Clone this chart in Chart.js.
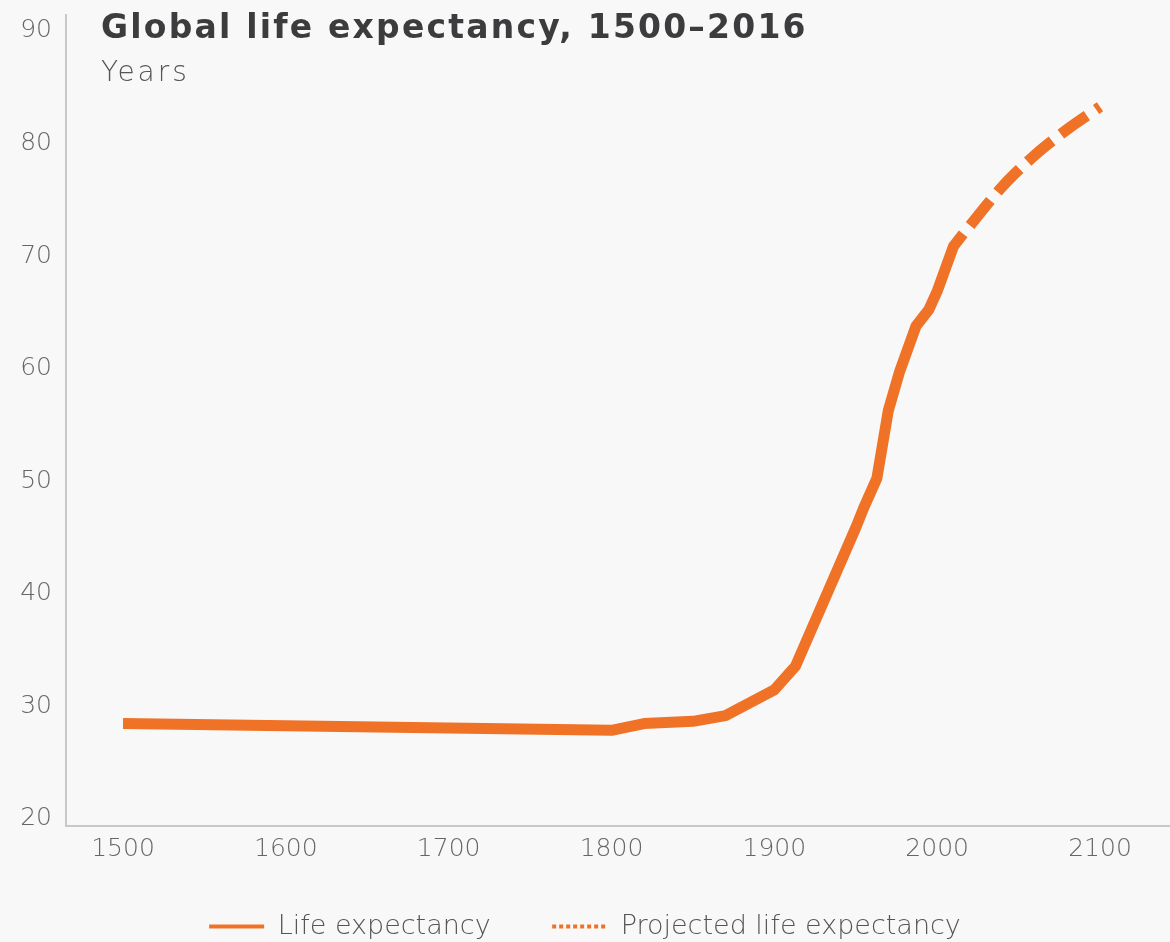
<!DOCTYPE html>
<html>
<head>
<meta charset="utf-8">
<script src="https://cdn.jsdelivr.net/npm/chart.js@4.4.1/dist/chart.umd.min.js"></script>
<style>
  html, body { margin: 0; padding: 0; background: #f8f8f8; }
  #wrap { position: relative; width: 1170px; height: 942px; }
  #title { position: absolute; left: 101px; top: 10px; font-family: "DejaVu Sans"; font-weight: bold; font-size: 33px; line-height: 1; letter-spacing: 2.2px; color: #3c3c3e; white-space: nowrap; }
  #subtitle { position: absolute; left: 101px; top: 58px; font-family: "DejaVu Sans"; font-weight: 200; font-size: 28px; line-height: 1; letter-spacing: 3px; color: #555; }
</style>
</head>
<body>
<div id="wrap">
  <canvas id="lifeChart" width="1170" height="942"></canvas>
  <div id="title">Global life expectancy, 1500–2016</div>
  <div id="subtitle">Years</div>
</div>
<script>
// values
const years = [1500, 1800, 1820, 1850, 1870, 1900, 1913, 1950, 1955, 1963, 1970, 1977, 1987, 1995, 2000, 2010, 2016];
const lifeExp = [28.2, 27.6, 28.2, 28.4, 28.9, 31.2, 33.3, 45.6, 47.4, 50.0, 56.0, 59.5, 63.5, 65.0, 66.6, 70.6, 71.7];

const projYears = [2016, 2040, 2060, 2080, 2100];
const projLifeExp = [71.7, 75.9, 78.7, 81.0, 83.0];

const xTicks = [1500, 1600, 1700, 1800, 1900, 2000, 2100];
const yTicks = [20, 30, 40, 50, 60, 70, 80, 90];

const ORANGE = '#ef7226';
const tickFont = { family: 'DejaVu Sans', size: 25, weight: '200' };

function toPoints(xs, ys) {
    return xs.map((x, i) => ({ x: x, y: ys[i] }));
}

const ctx = document.getElementById('lifeChart').getContext('2d');
new Chart(ctx, {
    type: 'line',
    data: {
        datasets: [
            { label: 'Life expectancy', data: toPoints(years, lifeExp), borderColor: ORANGE, borderWidth: 11, borderCapStyle: 'butt', borderJoinStyle: 'round', pointRadius: 0, tension: 0, fill: false },
            { label: 'Projected life expectancy', data: toPoints(projYears, projLifeExp), borderColor: ORANGE, borderWidth: 11, borderDash: [32, 11], borderDashOffset: 32, borderCapStyle: 'butt', pointRadius: 0, tension: 0.3, fill: false }
        ]
    },
    options: {
        responsive: false,
        animation: false,
        layout: { padding: { top: 15, left: 0, right: 0, bottom: -8 } },
        scales: {
            x: {
                type: 'linear', min: 1465, max: 2143,
                afterBuildTicks: s => { s.ticks = xTicks.map(v => ({ value: v })); },
                afterFit: s => { s.height = 77; s.paddingLeft = 0; s.paddingRight = 0; },
                grid: { display: false, drawTicks: false },
                border: { color: '#c8c8c8', width: 2 },
                ticks: { autoSkip: false, maxRotation: 0, padding: 8, color: '#666', font: tickFont, callback: v => String(v) }
            },
            y: {
                min: 19.1, max: 91.15,
                afterBuildTicks: s => { s.ticks = yTicks.map(v => ({ value: v })); },
                afterFit: s => { s.width = 66; s.paddingTop = 0; s.paddingBottom = 0; },
                grid: { display: false, drawTicks: false },
                border: { color: '#c8c8c8', width: 2 },
                ticks: { padding: 14, labelOffset: 3, color: '#666', font: tickFont }
            }
        },
        plugins: {
            tooltip: { enabled: false },
            legend: {
                position: 'bottom',
                labels: {
                    usePointStyle: true,
                    pointStyleWidth: 55,
                    padding: 10,
                    color: '#555',
                    font: { family: 'DejaVu Sans', size: 27, weight: '200' },
                    // spaces after the first entry keep the wide gap of the original legend
                    generateLabels: chart => chart.data.datasets.map((ds, i) => ({
                        text: i === 0 ? ds.label + '      ' : ds.label,
                        datasetIndex: i,
                        pointStyle: 'line',
                        strokeStyle: ORANGE,
                        fillStyle: ORANGE,
                        lineWidth: 4,
                        lineCap: 'butt',
                        lineDash: i === 1 ? [4, 3] : [],
                        fontColor: '#555',
                        hidden: false
                    }))
                }
            }
        }
    }
});
</script>
</body>
</html>
